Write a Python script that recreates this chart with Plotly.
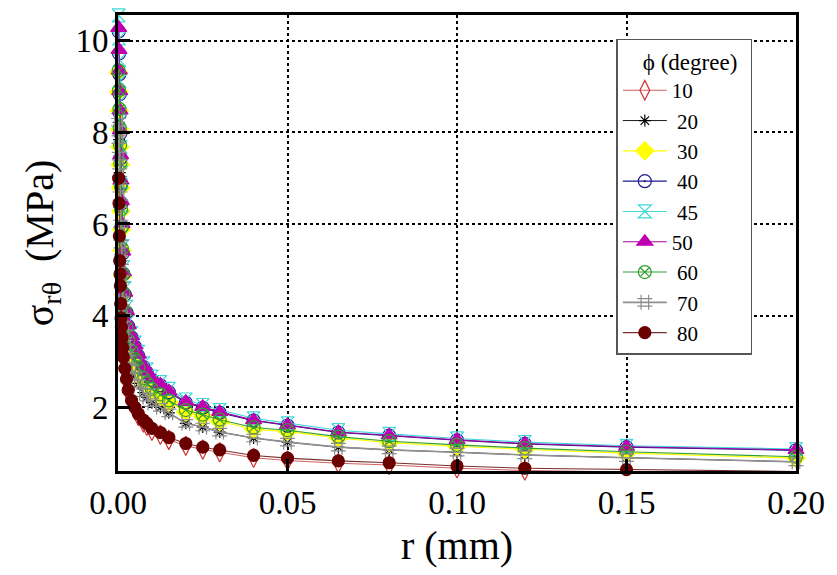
import plotly.graph_objects as go

# radial distance r (mm)
r_mm = [0.0002, 0.0003, 0.0004, 0.0005, 0.0006, 0.0007, 0.0008, 0.0009, 0.001, 0.0012,
        0.0014, 0.0016, 0.002, 0.0025, 0.003, 0.004, 0.005, 0.006, 0.0075, 0.0085,
        0.01, 0.0125, 0.015, 0.02, 0.025, 0.03, 0.04, 0.05, 0.065, 0.08,
        0.10, 0.12, 0.15, 0.20]

phi_labels = ["10", "\u00a020", "\u00a030", "\u00a040", "\u00a045", "50", "\u00a060", "\u00a070", "\u00a080"]

s10 = [6.95, 6.40, 5.69, 5.15, 4.86, 4.60, 4.21, 3.90, 3.70, 3.47, 3.25, 3.05, 2.80, 2.57, 2.33, 2.10,
       1.95, 1.81, 1.67, 1.60, 1.49, 1.40, 1.29, 1.16, 1.08, 1.02, 0.90, 0.84, 0.78, 0.74, 0.67, 0.62,
       0.59, 0.56]
s20 = [8.22, 7.84, 7.48, 7.12, 6.78, 6.44, 6.00, 5.56, 5.20, 4.80, 4.32, 3.96, 3.60, 3.28, 3.04, 2.84,
       2.68, 2.52, 2.32, 2.22, 2.10, 2.00, 1.88, 1.65, 1.57, 1.46, 1.33, 1.24, 1.13, 1.07, 1.02, 0.96,
       0.90, 0.81]
s30 = [9.30, 8.88, 8.47, 8.06, 7.68, 7.29, 6.79, 6.28, 5.88, 5.42, 4.87, 4.46, 4.06, 3.69, 3.42, 3.19,
       3.01, 2.83, 2.60, 2.49, 2.36, 2.24, 2.11, 1.90, 1.80, 1.69, 1.52, 1.47, 1.33, 1.23, 1.15, 1.08,
       1.00, 0.89]
s40 = [10.20, 9.72, 9.27, 8.83, 8.41, 7.98, 7.44, 6.89, 6.45, 5.95, 5.36, 4.91, 4.46, 4.07, 3.77, 3.52,
       3.32, 3.12, 2.88, 2.76, 2.60, 2.48, 2.33, 2.10, 1.99, 1.88, 1.71, 1.60, 1.45, 1.38, 1.28, 1.20,
       1.13, 1.06]
s45 = [10.55, 10.05, 9.58, 9.12, 8.68, 8.25, 7.68, 7.12, 6.65, 6.14, 5.52, 5.06, 4.60, 4.19, 3.88, 3.62,
       3.41, 3.21, 2.96, 2.83, 2.67, 2.55, 2.40, 2.17, 2.05, 1.94, 1.76, 1.65, 1.50, 1.42, 1.32, 1.24,
       1.16, 1.09]
s50 = [10.28, 9.80, 9.35, 8.90, 8.48, 8.05, 7.50, 6.95, 6.50, 6.00, 5.40, 4.95, 4.50, 4.10, 3.80, 3.55,
       3.35, 3.15, 2.90, 2.78, 2.62, 2.50, 2.35, 2.12, 2.01, 1.90, 1.72, 1.61, 1.46, 1.39, 1.29, 1.21,
       1.14, 1.07]
s60 = [9.35, 8.92, 8.51, 8.10, 7.72, 7.33, 6.83, 6.32, 5.92, 5.46, 4.91, 4.50, 4.10, 3.73, 3.46, 3.23,
       3.05, 2.87, 2.64, 2.53, 2.40, 2.28, 2.15, 1.94, 1.84, 1.73, 1.56, 1.50, 1.36, 1.26, 1.18, 1.11,
       1.03, 0.92]
s70 = [8.22, 7.84, 7.48, 7.12, 6.78, 6.44, 6.00, 5.56, 5.20, 4.80, 4.32, 3.96, 3.60, 3.28, 3.04, 2.84,
       2.68, 2.52, 2.32, 2.22, 2.10, 2.00, 1.88, 1.65, 1.57, 1.46, 1.33, 1.24, 1.13, 1.07, 1.02, 0.96,
       0.90, 0.81]
s80 = [7.00, 6.45, 5.74, 5.20, 4.91, 4.65, 4.26, 3.95, 3.75, 3.52, 3.30, 3.10, 2.85, 2.62, 2.38, 2.15,
       2.00, 1.86, 1.72, 1.65, 1.54, 1.45, 1.34, 1.21, 1.13, 1.07, 0.95, 0.89, 0.83, 0.79, 0.72, 0.67,
       0.64, 0.60]

series = [s10, s20, s30, s40, s45, s50, s60, s70, s80]

styles = [
    dict(symbol="diamond-tall-open", mcolor="#d03030", lcolor="#d06060", size=14, lw=1.1),
    dict(symbol="asterisk-open", mcolor="#000000", lcolor="#000000", size=10, lw=0.9),
    dict(symbol="diamond", mcolor="#ffff00", lcolor="#ffff00", size=14, lw=1.1),
    dict(symbol="circle-open-dot", mcolor="#1a1a8c", lcolor="#1a1a8c", size=13, lw=1.1),
    dict(symbol="hourglass-open", mcolor="#40d8d8", lcolor="#40d8d8", size=13, lw=1.1),
    dict(symbol="triangle-up", mcolor="#c000b0", lcolor="#a000a0", size=14, lw=1.1),
    dict(symbol="circle-x-open", mcolor="#30a030", lcolor="#30a030", size=13, lw=1.1),
    dict(symbol="hash-open", mcolor="#8c8c8c", lcolor="#909090", size=15, lw=1.6),
    dict(symbol="circle", mcolor="#6a0000", lcolor="#7a3030", size=12, lw=1.1),
]

fig = go.Figure()
for name, ys, st in zip(phi_labels, series, styles):
    fig.add_trace(go.Scatter(
        x=r_mm, y=ys, mode="lines+markers", name=name,
        line=dict(color=st["lcolor"], width=st["lw"]),
        marker=dict(symbol=st["symbol"], size=st["size"], color=st["mcolor"],
                    line=dict(color=st["mcolor"], width=1.2)),
        cliponaxis=False,
    ))

serif = "Times New Roman, Liberation Serif, serif"

fig.update_layout(
    width=837, height=575,
    margin=dict(l=118, r=32, t=12, b=104),
    paper_bgcolor="white", plot_bgcolor="white",
    font=dict(family=serif, color="black"),
    showlegend=True,
    legend=dict(
        x=0.735, y=0.948, xanchor="left", yanchor="top",
        bgcolor="white", bordercolor="#555555", borderwidth=1.5,
        font=dict(family=serif, size=21, color="black"),
        title=dict(text="\u00a0\u00a0\u00a0\u00a0\u03d5 (degree)\u00a0\u00a0",
                   font=dict(family=serif, size=23, color="black")),
        itemwidth=44, tracegroupgap=0,
    ),
)

fig.update_xaxes(
    range=[0, 0.2], tickvals=[0, 0.05, 0.10, 0.15, 0.20],
    ticktext=["0.00", "0.05", "0.10", "0.15", "0.20"],
    tickfont=dict(family=serif, size=33, color="black"),
    ticks="inside", ticklen=12, tickwidth=3, tickcolor="black",
    showline=True, linecolor="black", linewidth=3, mirror=True,
    showgrid=True, gridcolor="black", griddash="dot", gridwidth=1.5,
    zeroline=False,
    title=dict(text="r (mm)", font=dict(family=serif, size=40, color="black"), standoff=12),
)
fig.update_yaxes(
    range=[0.61, 10.56], tickvals=[2, 4, 6, 8, 10],
    tickfont=dict(family=serif, size=33, color="black"),
    ticks="inside", ticklen=12, tickwidth=3, tickcolor="black",
    showline=True, linecolor="black", linewidth=3, mirror=True,
    showgrid=True, gridcolor="black", griddash="dot", gridwidth=1.5,
    zeroline=False,
    title=dict(text="\u03c3<sub>r\u03b8</sub>  (MPa)", font=dict(family=serif, size=40, color="black"), standoff=10),
)

fig.write_html("out.html")
